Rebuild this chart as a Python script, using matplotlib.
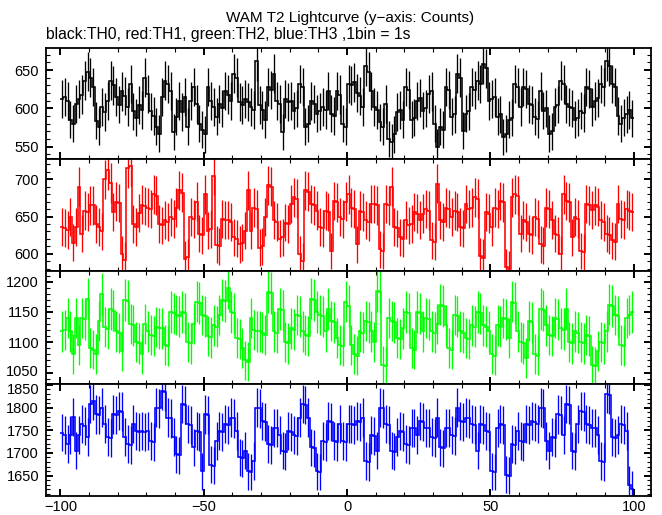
import numpy as np
import matplotlib
matplotlib.use("Agg")
import matplotlib.pyplot as plt
from matplotlib.ticker import MultipleLocator
from matplotlib.transforms import ScaledTranslation

plt.rcParams['font.family'] = ['Liberation Sans', 'DejaVu Sans']
plt.rcParams['axes.unicode_minus'] = True

# time bin centres (1 bin = 1 s)
time = np.arange(-99.5, 100.0, 1.0)

th0 = [612,
 615, 610, 585, 580, 606, 612, 618, 636, 648, 640,
 628, 584, 576, 602, 595, 610, 636, 630, 615, 605,
 622, 616, 602, 632, 596, 588, 604, 598, 640, 619,
 596, 590, 576, 567, 615, 636, 632, 623, 569, 589,
 610, 595, 615, 576, 610, 628, 606, 580, 572, 566,
 628, 610, 602, 589, 606, 600, 623, 618, 610, 645,
 640, 608, 604, 612, 608, 602, 598, 662, 604, 598,
 585, 628, 624, 645, 610, 606, 569, 612, 608, 610,
 597, 600, 632, 628, 576, 580, 610, 606, 593, 596,
 602, 598, 623, 593, 590, 623, 618, 580, 576, 632,
 630, 634, 620, 616, 602, 655, 648, 623, 602, 598,
 582, 576, 606, 560, 556, 566, 595, 598, 585, 628,
 624, 585, 588, 610, 614, 597, 600, 619, 622, 580,
 550, 576, 572, 628, 624, 589, 592, 645, 640, 571,
 593, 596, 628, 624, 636, 632, 658, 652, 610, 612,
 615, 589, 592, 563, 567, 585, 588, 632, 628, 602,
 628, 625, 606, 604, 589, 586, 623, 597, 600, 567,
 570, 602, 605, 636, 632, 606, 602, 600, 585, 588,
 597, 594, 628, 625, 602, 610, 613, 632, 628, 662,
 655, 632, 628, 590, 580, 588, 592, 598, 587]

th1 = [636,
 635, 632, 649, 615, 636, 690, 627, 658, 656, 665,
 665, 640, 636, 630, 700, 712, 695, 656, 670, 668,
 600, 592, 715, 718, 640, 636, 655, 666, 664, 662,
 660, 680, 678, 640, 638, 645, 643, 649, 647, 662,
 685, 682, 593, 596, 649, 647, 670, 627, 625, 680,
 631, 633, 705, 612, 610, 647, 645, 645, 643, 622,
 620, 613, 615, 631, 685, 631, 662, 660, 608, 610,
 649, 692, 690, 645, 643, 620, 622, 642, 640, 667,
 676, 674, 600, 590, 685, 683, 667, 665, 658, 636,
 634, 658, 656, 604, 671, 669, 649, 647, 670, 680,
 662, 660, 613, 658, 656, 645, 643, 667, 667, 665,
 606, 604, 667, 665, 690, 636, 634, 622, 620, 645,
 638, 640, 656, 654, 645, 654, 660, 658, 618, 616,
 694, 645, 643, 662, 660, 649, 658, 656, 636, 634,
 667, 660, 662, 676, 674, 597, 595, 656, 654, 636,
 662, 660, 671, 669, 582, 580, 676, 680, 678, 627,
 645, 643, 627, 625, 649, 647, 613, 611, 662, 660,
 645, 627, 625, 600, 680, 671, 669, 622, 649, 647,
 604, 602, 667, 665, 659, 665, 663, 645, 643, 627,
 625, 618, 616, 667, 647, 645, 660, 658, 656]

th2 = [1118,
 1120, 1140, 1118, 1080, 1140, 1095, 1140, 1138, 1172, 1090,
 1088, 1080, 1135, 1180, 1125, 1122, 1155, 1152, 1118, 1115,
 1085, 1170, 1168, 1130, 1128, 1100, 1098, 1080, 1130, 1118,
 1112, 1110, 1125, 1123, 1123, 1095, 1093, 1150, 1148, 1145,
 1143, 1150, 1148, 1100, 1098, 1130, 1167, 1165, 1145, 1143,
 1110, 1108, 1128, 1126, 1145, 1170, 1168, 1190, 1150, 1148,
 1107, 1105, 1090, 1070, 1068, 1140, 1120, 1118, 1118, 1116,
 1112, 1183, 1181, 1118, 1116, 1155, 1153, 1100, 1098, 1123,
 1121, 1145, 1143, 1118, 1112, 1110, 1172, 1170, 1150, 1145,
 1143, 1118, 1155, 1135, 1133, 1107, 1095, 1093, 1167, 1160,
 1095, 1080, 1078, 1118, 1116, 1135, 1133, 1118, 1100, 1185,
 1183, 1062, 1060, 1140, 1135, 1133, 1107, 1105, 1123, 1150,
 1148, 1090, 1088, 1150, 1148, 1118, 1140, 1138, 1118, 1116,
 1130, 1162, 1160, 1128, 1090, 1088, 1145, 1143, 1118, 1116,
 1107, 1105, 1128, 1126, 1150, 1148, 1128, 1126, 1118, 1080,
 1078, 1128, 1126, 1140, 1138, 1107, 1167, 1165, 1118, 1100,
 1098, 1074, 1135, 1133, 1080, 1078, 1155, 1153, 1128, 1112,
 1110, 1140, 1138, 1123, 1121, 1155, 1100, 1098, 1118, 1116,
 1100, 1098, 1112, 1110, 1062, 1060, 1085, 1100, 1098, 1118,
 1162, 1160, 1145, 1143, 1095, 1093, 1140, 1145, 1150]

th3 = [1745,
 1740, 1720, 1740, 1780, 1705, 1740, 1763, 1760, 1735, 1808,
 1815, 1785, 1783, 1800, 1763, 1735, 1733, 1785, 1783, 1793,
 1791, 1735, 1720, 1718, 1763, 1749, 1747, 1749, 1747, 1749,
 1726, 1724, 1800, 1798, 1837, 1835, 1778, 1776, 1735, 1697,
 1695, 1808, 1806, 1763, 1761, 1712, 1749, 1747, 1660, 1785,
 1783, 1674, 1672, 1726, 1749, 1747, 1763, 1761, 1778, 1776,
 1749, 1690, 1688, 1705, 1660, 1658, 1682, 1800, 1798, 1770,
 1768, 1720, 1718, 1756, 1754, 1740, 1705, 1703, 1749, 1747,
 1740, 1738, 1778, 1808, 1806, 1778, 1712, 1710, 1660, 1658,
 1726, 1724, 1770, 1768, 1726, 1724, 1763, 1726, 1724, 1763,
 1763, 1761, 1770, 1768, 1778, 1682, 1680, 1740, 1738, 1705,
 1800, 1798, 1763, 1761, 1705, 1703, 1735, 1749, 1747, 1720,
 1718, 1756, 1754, 1740, 1770, 1768, 1756, 1754, 1735, 1733,
 1778, 1712, 1710, 1756, 1754, 1740, 1738, 1800, 1770, 1768,
 1778, 1776, 1763, 1761, 1705, 1763, 1761, 1749, 1747, 1660,
 1658, 1756, 1763, 1761, 1652, 1650, 1720, 1718, 1749, 1726,
 1724, 1763, 1761, 1770, 1768, 1763, 1800, 1798, 1726, 1705,
 1735, 1733, 1785, 1783, 1740, 1808, 1806, 1705, 1703, 1763,
 1793, 1791, 1763, 1761, 1756, 1754, 1740, 1682, 1680, 1830,
 1828, 1735, 1733, 1740, 1763, 1761, 1749, 1630, 1620]

series = [th0, th1, th2, th3]
colors = ['black', '#ff0000', '#00ff00', '#0000ff']
ylims = [(534.6, 678.7), (577, 727.8), (1031, 1217.7), (1605, 1852)]

W, H = 662, 515
fig = plt.figure(figsize=(W / 100, H / 100), dpi=100)
bounds_px = [48, 158.5, 271, 384, 496]
left = 46 / W
width = (651 - 46) / W

edges = np.append(time - 0.5, time[-1] + 0.5)

axes = []
for i, (vals, col, yl) in enumerate(zip(series, colors, ylims)):
    top = 1 - bounds_px[i] / H
    bot = 1 - bounds_px[i + 1] / H
    ax = fig.add_axes([left, bot, width, top - bot])
    v = np.asarray(vals, dtype=float)
    err = np.sqrt(v)
    ax.vlines(time, v - err, v + err, colors=col, linewidth=0.95)
    ax.stairs(v, edges, color=col, linewidth=1.15, baseline=None)
    ax.set_xlim(-105, 106)
    ax.set_ylim(*yl)
    ax.xaxis.set_major_locator(MultipleLocator(50))
    ax.xaxis.set_minor_locator(MultipleLocator(10))
    ax.yaxis.set_major_locator(MultipleLocator(50))
    ax.yaxis.set_minor_locator(MultipleLocator(10))
    ax.tick_params(which='both', direction='in', top=True, right=True,
                   labelsize=10.5, colors='black')
    ax.tick_params(which='major', length=5, width=1.4, pad=5)
    ax.tick_params(which='minor', length=3, width=0.8)
    ax.tick_params(axis='x', pad=3)
    for s in ax.spines.values():
        s.set_linewidth(1.3)
    if i < 3:
        ax.tick_params(axis='x', labelbottom=False)
    axes.append(ax)

fig.text(350 / W, 1 - 18 / H, 'WAM T2 Lightcurve (y\u2212axis: Counts)',
         ha='center', va='center', fontsize=11)
fig.text(46 / W, 1 - 35 / H,
         'black:TH0, red:TH1, green:TH2, blue:TH3 ,1bin = 1s',
         ha='left', va='center', fontsize=11.3)

# nudge the two crowded labels at the green/blue junction slightly apart
fig.canvas.draw()
for ax, target, dy in [(axes[3], 1850, -2.5), (axes[2], 1050, 1.5)]:
    for tick in ax.yaxis.get_major_ticks():
        if abs(tick.get_loc() - target) < 1e-6:
            lab = tick.label1
            lab.set_transform(lab.get_transform() +
                              ScaledTranslation(0, dy / 72, fig.dpi_scale_trans))

fig.savefig('out.png', dpi=100)
